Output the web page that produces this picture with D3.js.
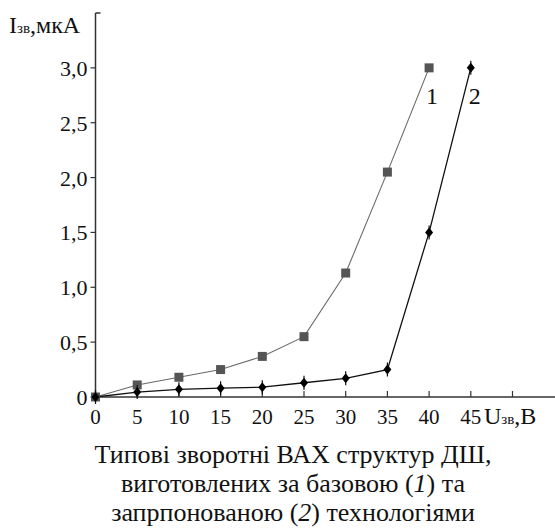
<!DOCTYPE html>
<html>
<head>
<meta charset="utf-8">
<script src="https://cdn.jsdelivr.net/npm/d3@7"></script>
<style>
  body { margin: 0; background: #fff; }
</style>
</head>
<body>
<div id="viz"></div>
<script>
// voltages, V
var volts1 = [0, 5, 10, 15, 20, 25, 30, 35, 40],
    curr1 = [0, 0.11, 0.18, 0.25, 0.37, 0.55, 1.13, 2.05, 3.0],
    volts2 = [0, 5, 10, 15, 20, 25, 30, 35, 40, 45],
    curr2 = [0, 0.045, 0.07, 0.08, 0.09, 0.13, 0.17, 0.25, 1.5, 3.0];
var xTicks = [0, 5, 10, 15, 20, 25, 30, 35, 40, 45, 50],
    xLabels = ["0", "5", "10", "15", "20", "25", "30", "35", "40", "45", ""],
    yTicks = [0, 0.5, 1.0, 1.5, 2.0, 2.5, 3.0],
    yLabels = ["0", "0,5", "1,0", "1,5", "2,0", "2,5", "3,0"];
var caption = ["Типові зворотні ВАХ структур ДШ,",
               "виготовлених за базовою (", "запрпонованою ("];

var W = 555, H = 531;
var svg = d3.select("#viz").append("svg").attr("width", W).attr("height", H)
    .attr("font-family", "'Liberation Serif', 'Times New Roman', serif")
    .attr("fill", "#111");

var x = d3.scaleLinear().domain([0, 50]).range([95.5, 512.5]);
var y = d3.scaleLinear().domain([0, 3.5]).range([397, 13]);

// axes
svg.append("line").attr("x1", x(0)).attr("x2", 555).attr("y1", y(0)).attr("y2", y(0))
    .attr("stroke", "#333").attr("stroke-width", 1.5);
svg.append("line").attr("x1", x(0)).attr("x2", x(0)).attr("y1", y(0)).attr("y2", y(3.5))
    .attr("stroke", "#333").attr("stroke-width", 1.5);
svg.append("line").attr("x1", x(0)).attr("x2", x(0) + 5).attr("y1", y(3.5)).attr("y2", y(3.5))
    .attr("stroke", "#333").attr("stroke-width", 1.5);

svg.selectAll(".xt").data(xTicks).enter().append("line")
    .attr("x1", function(d) { return x(d); }).attr("x2", function(d) { return x(d); })
    .attr("y1", y(0)).attr("y2", y(0) - 6)
    .attr("stroke", "#333").attr("stroke-width", 1.2);
svg.selectAll(".xl").data(xTicks).enter().append("text")
    .attr("x", function(d) { return x(d); }).attr("y", 424)
    .attr("text-anchor", "middle").style("font-size", "21px")
    .text(function(d, i) { return xLabels[i]; });

svg.selectAll(".yt").data(yTicks).enter().append("line")
    .attr("x1", x(0)).attr("x2", x(0) - 5)
    .attr("y1", function(d) { return y(d); }).attr("y2", function(d) { return y(d); })
    .attr("stroke", "#333").attr("stroke-width", 1.2);
svg.selectAll(".yl").data(yTicks).enter().append("text")
    .attr("x", x(0) - 8).attr("y", function(d) { return y(d) + 8; })
    .attr("text-anchor", "end").style("font-size", "22px")
    .text(function(d, i) { return yLabels[i]; });

// axis titles
var yt = svg.append("text").attr("x", 9).attr("y", 33).style("font-size", "24px");
yt.append("tspan").text("I");
yt.append("tspan").style("font-size", "15px").text("зв");
yt.append("tspan").text(",мкА");

var xt = svg.append("text").attr("x", 484).attr("y", 424).style("font-size", "24px");
xt.append("tspan").text("U");
xt.append("tspan").style("font-size", "15px").text("зв");
xt.append("tspan").text(",В");

// curves
var line = d3.line().x(function(d) { return x(d[0]); }).y(function(d) { return y(d[1]); });
var pts1 = volts1.map(function(v, i) { return [v, curr1[i]]; });
var pts2 = volts2.map(function(v, i) { return [v, curr2[i]]; });

svg.append("path").datum(pts1).attr("d", line)
    .attr("fill", "none").attr("stroke", "#6a6a6a").attr("stroke-width", 1.1);
svg.append("path").datum(pts2).attr("d", line)
    .attr("fill", "none").attr("stroke", "#111").attr("stroke-width", 1.3);

svg.selectAll(".sq").data(pts1).enter().append("rect")
    .attr("x", function(d) { return x(d[0]) - 4.5; })
    .attr("y", function(d) { return y(d[1]) - 4.5; })
    .attr("width", 9).attr("height", 9).attr("fill", "#555");

var dm = svg.selectAll(".dm").data(pts2).enter().append("g")
    .attr("transform", function(d) { return "translate(" + x(d[0]) + "," + y(d[1]) + ")"; });
dm.append("line").attr("y1", -7).attr("y2", 7).attr("stroke", "#111").attr("stroke-width", 1.2);
dm.append("path").attr("d", "M0,-5L4,0L0,5L-4,0Z").attr("fill", "#000");

// curve numbers
svg.append("text").attr("x", x(40) - 3).attr("y", 104).style("font-size", "24px").text("1");
svg.append("text").attr("x", x(45) - 2).attr("y", 104).style("font-size", "24px").text("2");

// caption
svg.append("text").attr("x", 293).attr("y", 463).attr("text-anchor", "middle")
    .style("font-size", "26px").text(caption[0]);
var c2 = svg.append("text").attr("x", 293).attr("y", 492).attr("text-anchor", "middle")
    .style("font-size", "26px");
c2.append("tspan").text(caption[1]);
c2.append("tspan").style("font-style", "italic").text("1");
c2.append("tspan").text(") та");
var c3 = svg.append("text").attr("x", 293).attr("y", 521).attr("text-anchor", "middle")
    .style("font-size", "26px");
c3.append("tspan").text(caption[2]);
c3.append("tspan").style("font-style", "italic").text("2");
c3.append("tspan").text(") технологіями");
</script>
</body>
</html>
